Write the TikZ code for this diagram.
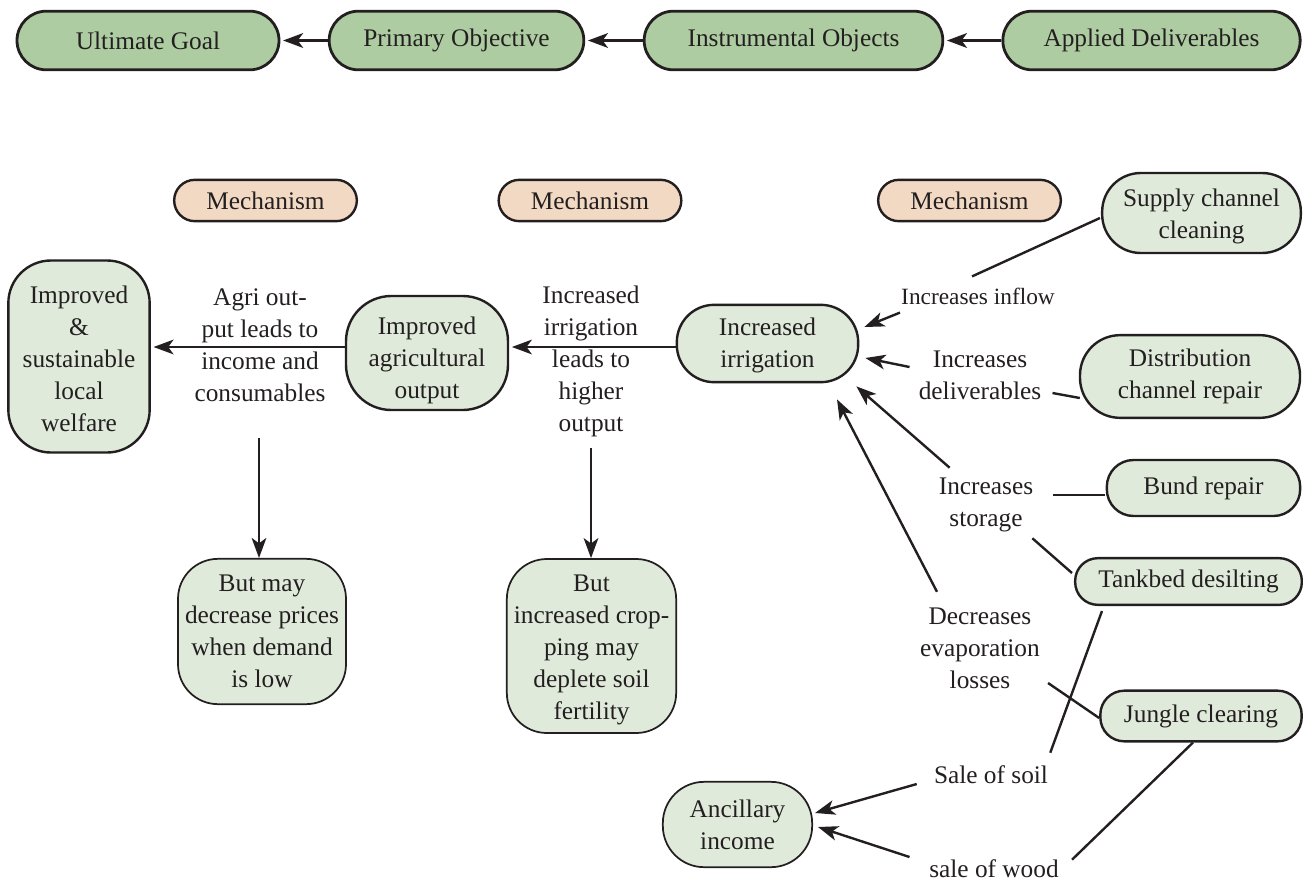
\documentclass[tikz,border=0pt]{standalone}
\usepackage{fontspec}
\setmainfont{Liberation Serif}
\usetikzlibrary{arrows.meta,calc}
\definecolor{topgreen}{HTML}{AECCA2}
\definecolor{lightgreen}{HTML}{E0EADA}
\definecolor{peach}{HTML}{F2D9C4}
\definecolor{ink}{HTML}{231F20}
\begin{document}
\begin{tikzpicture}[x=0.75pt,y=-0.75pt,
  every node/.style={font=\fontsize{19}{24}\selectfont, text=ink, align=center, inner sep=0pt},
  box/.style={draw=ink, line width=1.8pt, fill=lightgreen},
  thinbox/.style={draw=ink, line width=1.3pt, fill=lightgreen},
  topbox/.style={draw=ink, line width=2.1pt, fill=topgreen, minimum height=44pt, rounded corners=22pt},
  mech/.style={draw=ink, line width=1.8pt, fill=peach, minimum width=137pt, minimum height=31pt, rounded corners=15.5pt},
  smalllab/.style={font=\fontsize{17.5}{22}\selectfont},
  conn/.style={draw=ink, line width=1.8pt},
  arr/.style={conn, -{Stealth[length=15pt,width=11pt,inset=4pt]}},
]
\useasboundingbox (0,0) rectangle (1303,882);

% top row
\node[topbox, minimum width=196.5pt] (ug) at (148,40.5) {Ultimate Goal};
\node[topbox, minimum width=191pt] (po) at (456.5,40.5) {Primary Objective};
\node[topbox, minimum width=224pt] (io) at (793.5,40.5) {Instrumental Objects};
\node[topbox, minimum width=223pt] (ad) at (1151.5,40.5) {Applied Deliverables};
\draw[arr, line width=2.2pt, shorten >=2pt] (po.west) -- (ug.east);
\draw[arr, line width=2.2pt, shorten >=2pt] (io.west) -- (po.east);
\draw[arr, line width=2.2pt, shorten >=2pt] (ad.west) -- (io.east);

% mechanisms
\node[mech] (m1) at (265.5,200.5) {Mechanism};
\node[mech] (m2) at (590,200.5) {Mechanism};
\node[mech] (m3) at (969.5,200.5) {Mechanism};

% main boxes
\node[box, minimum width=106pt, minimum height=144pt, rounded corners=32pt] (welfare) at (79,356.5) {\rule{0pt}{16pt}Improved\\\&\\sustainable\\local\\welfare};
\node[box, minimum width=121.5pt, minimum height=85.5pt, rounded corners=34pt] (agri) at (427,353) {\rule{0pt}{24pt}Improved\\agricultural\\output};
\node[box, minimum width=136pt, minimum height=58pt, rounded corners=28pt] (irr) at (767.5,343.5) {\rule{0pt}{16pt}Increased\\irrigation};
\node[thinbox, minimum width=126pt, minimum height=109pt, rounded corners=30pt] (butmay) at (262,631.5) {But may\\decrease prices\\when demand\\is low};
\node[thinbox, minimum width=127pt, minimum height=130.5pt, rounded corners=30pt] (butinc) at (591.5,646) {\rule{0pt}{19pt}But\\increased crop-\\ping may\\deplete soil\\fertility};
\node[box, minimum width=149pt, minimum height=60pt, rounded corners=29pt] (supply) at (1201.5,213) {\rule{0pt}{19pt}Supply channel\\cleaning};
\node[box, minimum width=165pt, minimum height=62pt, rounded corners=30pt] (distrib) at (1190,376.5) {Distribution\\channel repair};
\node[box, minimum width=145pt, minimum height=42pt, rounded corners=20pt] (bund) at (1203.5,488) {Bund repair};
\node[box, minimum width=170pt, minimum height=35pt, rounded corners=17pt] (tank) at (1188.5,581.5) {Tankbed desilting};
\node[box, minimum width=151pt, minimum height=38pt, rounded corners=18pt] (jungle) at (1201,716) {Jungle clearing};
\node[thinbox, minimum width=112pt, minimum height=64pt, rounded corners=31pt] (anc) at (737.5,824.5) {Ancillary\\income};

% labels
\node (agrilab) at (260,345) {Agri out-\\put leads to\\income and\\consumables};
\node (irrlab) at (591,361) {Increased\\irrigation\\leads to\\higher\\output};
\node[smalllab] (inflow) at (978,296) {Increases inflow};
\node (deliv) at (980,375) {Increases\\deliverables};
\node (storage) at (986,505) {Increases\\storage};
\node (evap) at (980,648.5) {Decreases\\evaporation\\losses};
\node (soil) at (991,775) {Sale of soil};
\node (wood) at (994,869) {sale of wood};

% main chain
\coordinate (rowy) at (0,347);
\draw[arr, shorten >=2pt] (agri.west |- rowy) -- (welfare.east |- rowy);
\draw[arr, shorten >=2pt] (irr.west |- rowy) -- (agri.east |- rowy);
\draw[arr] ($(agrilab.south)+(-1,36)$) -- ($(butmay.north)+(-3,0)$);
\draw[arr] ($(irrlab.south)+(0,11)$) -- (irrlab.south |- butinc.north);

% right side
\draw[conn] ($(supply.west)+(-1,5)$) -- ($(inflow.north)+(-6,-11)$);
\draw[arr] ($(inflow.south west)+(-1,8)$) -- ($(irr.east)+(5,-16.5)$);
\draw[conn] ($(distrib.west)+(1,21.5)$) -- ($(deliv.east)+(11,18)$);
\draw[arr] ($(deliv.west)+(-9,-8)$) -- ($(irr.east)+(6,14.5)$);
\draw[conn] ($(bund.west)+(-1,7)$) -- ($(storage.east)+(20,-10)$);
\draw[conn] ($(tank.west)+(-2,-8.5)$) -- ($(storage.south east)+(-1,6)$);
\draw[arr] ($(storage.north west)+(11,-10)$) -- ($(irr.south east)+(-3,3)$);
\draw[conn] ($(jungle.west)+(0,2)$) -- ($(evap.east)+(8,34.5)$);
\draw[arr] ($(evap.north)+(-43,-16)$) -- ($(irr.south)+(69.5,16)$);
\draw[conn] ($(tank.south west)+(28,5)$) -- ($(soil.north east)+(2,-13)$);
\draw[arr] ($(soil.west)+(-17,9)$) -- ($(anc.east)+(2,-11.5)$);
\draw[conn] ($(jungle.south)+(-8,0)$) -- ($(wood.north east)+(13,0)$);
\draw[arr] ($(wood.west)+(-19.5,-12)$) -- ($(anc.east)+(5,2.5)$);
\end{tikzpicture}
\end{document}
